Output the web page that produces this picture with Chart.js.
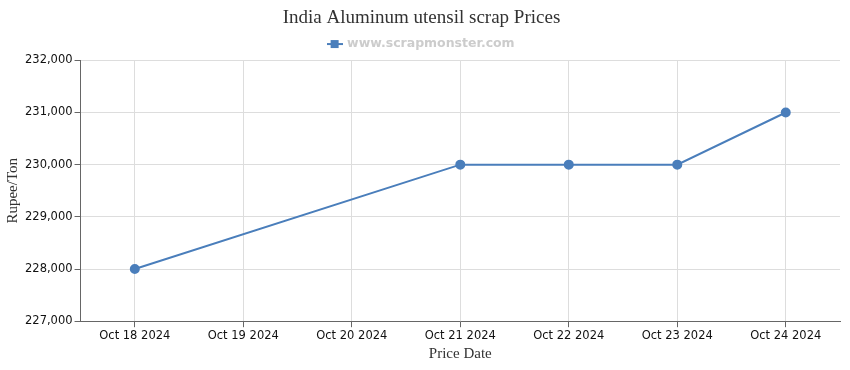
<!DOCTYPE html>
<html>
<head>
<meta charset="utf-8">
<script src="https://cdn.jsdelivr.net/npm/chart.js@4"></script>
<style>
  body { margin: 0; background: #fff; }
  #wrap { width: 850px; height: 370px; }
</style>
</head>
<body>
<div id="wrap"><canvas id="myChart" width="850" height="370"></canvas></div>
<script>
const dates = ['Oct 18 2024', 'Oct 19 2024', 'Oct 20 2024', 'Oct 21 2024', 'Oct 22 2024', 'Oct 23 2024', 'Oct 24 2024'];
// no price on the 19th and 20th, the line just spans them
const prices = [228000, null, null, 230000, 230000, 230000, 231000];
const yTicks = [227000, 228000, 229000, 230000, 231000, 232000];

const blue = '#4a7ebb';

// legend symbol: short line with a square on it
const sym = document.createElement('canvas');
sym.width = 16; sym.height = 10;
const sc = sym.getContext('2d');
sc.strokeStyle = blue; sc.lineWidth = 2;
sc.beginPath(); sc.moveTo(0, 5); sc.lineTo(16, 5); sc.stroke();
sc.fillStyle = blue; sc.fillRect(4, 1, 8, 8);

const config = {
  type: 'line',
  data: {
    labels: dates,
    datasets: [{
      label: 'www.scrapmonster.com',
      data: prices,
      borderColor: blue,
      backgroundColor: blue,
      borderWidth: 2,
      pointRadius: 4,
      pointHoverRadius: 4,
      spanGaps: true,
      tension: 0
    }]
  },
  options: {
    responsive: false,
    animation: false,
    layout: { padding: { left: 3, right: 10, top: 0, bottom: 7 } },
    scales: {
      x: {
        offset: true,
        grid: { color: '#dddddd', tickColor: '#666', tickLength: 6 },
        border: { color: '#666' },
        ticks: { color: '#111', font: { family: 'DejaVu Sans', size: 11.5 }, padding: 2, maxRotation: 0 },
        title: { display: true, text: 'Price Date', color: '#333', font: { family: 'Liberation Serif', size: 15 }, padding: 0 }
      },
      y: {
        min: 227000,
        max: 232000,
        afterBuildTicks: (axis) => { axis.ticks = yTicks.map(v => ({ value: v })); },
        grid: { color: '#dddddd', tickColor: '#666', tickLength: 6 },
        border: { color: '#666' },
        ticks: {
          color: '#111', font: { family: 'DejaVu Sans', size: 11.5 }, padding: 2,
          callback: (v) => v.toLocaleString('en-US')
        },
        title: { display: true, text: 'Rupee/Ton', color: '#333', font: { family: 'Liberation Serif', size: 15 }, padding: 1 }
      }
    },
    plugins: {
      title: {
        display: true,
        text: 'India Aluminum utensil scrap Prices',
        color: '#333',
        font: { family: 'Liberation Serif', size: 19, weight: 'normal' },
        padding: { top: 7, bottom: 1 }
      },
      legend: {
        labels: {
          usePointStyle: true,
          color: '#cccccc',
          font: { family: 'DejaVu Sans', size: 12.5, weight: 'bold' },
          padding: 7,
          generateLabels: (chart) => [{
            text: chart.data.datasets[0].label,
            pointStyle: sym,
            fontColor: '#cccccc',
            datasetIndex: 0
          }]
        }
      },
      tooltip: { enabled: false }
    }
  }
};

const myChart = new Chart(document.getElementById('myChart'), config);
</script>
</body>
</html>
